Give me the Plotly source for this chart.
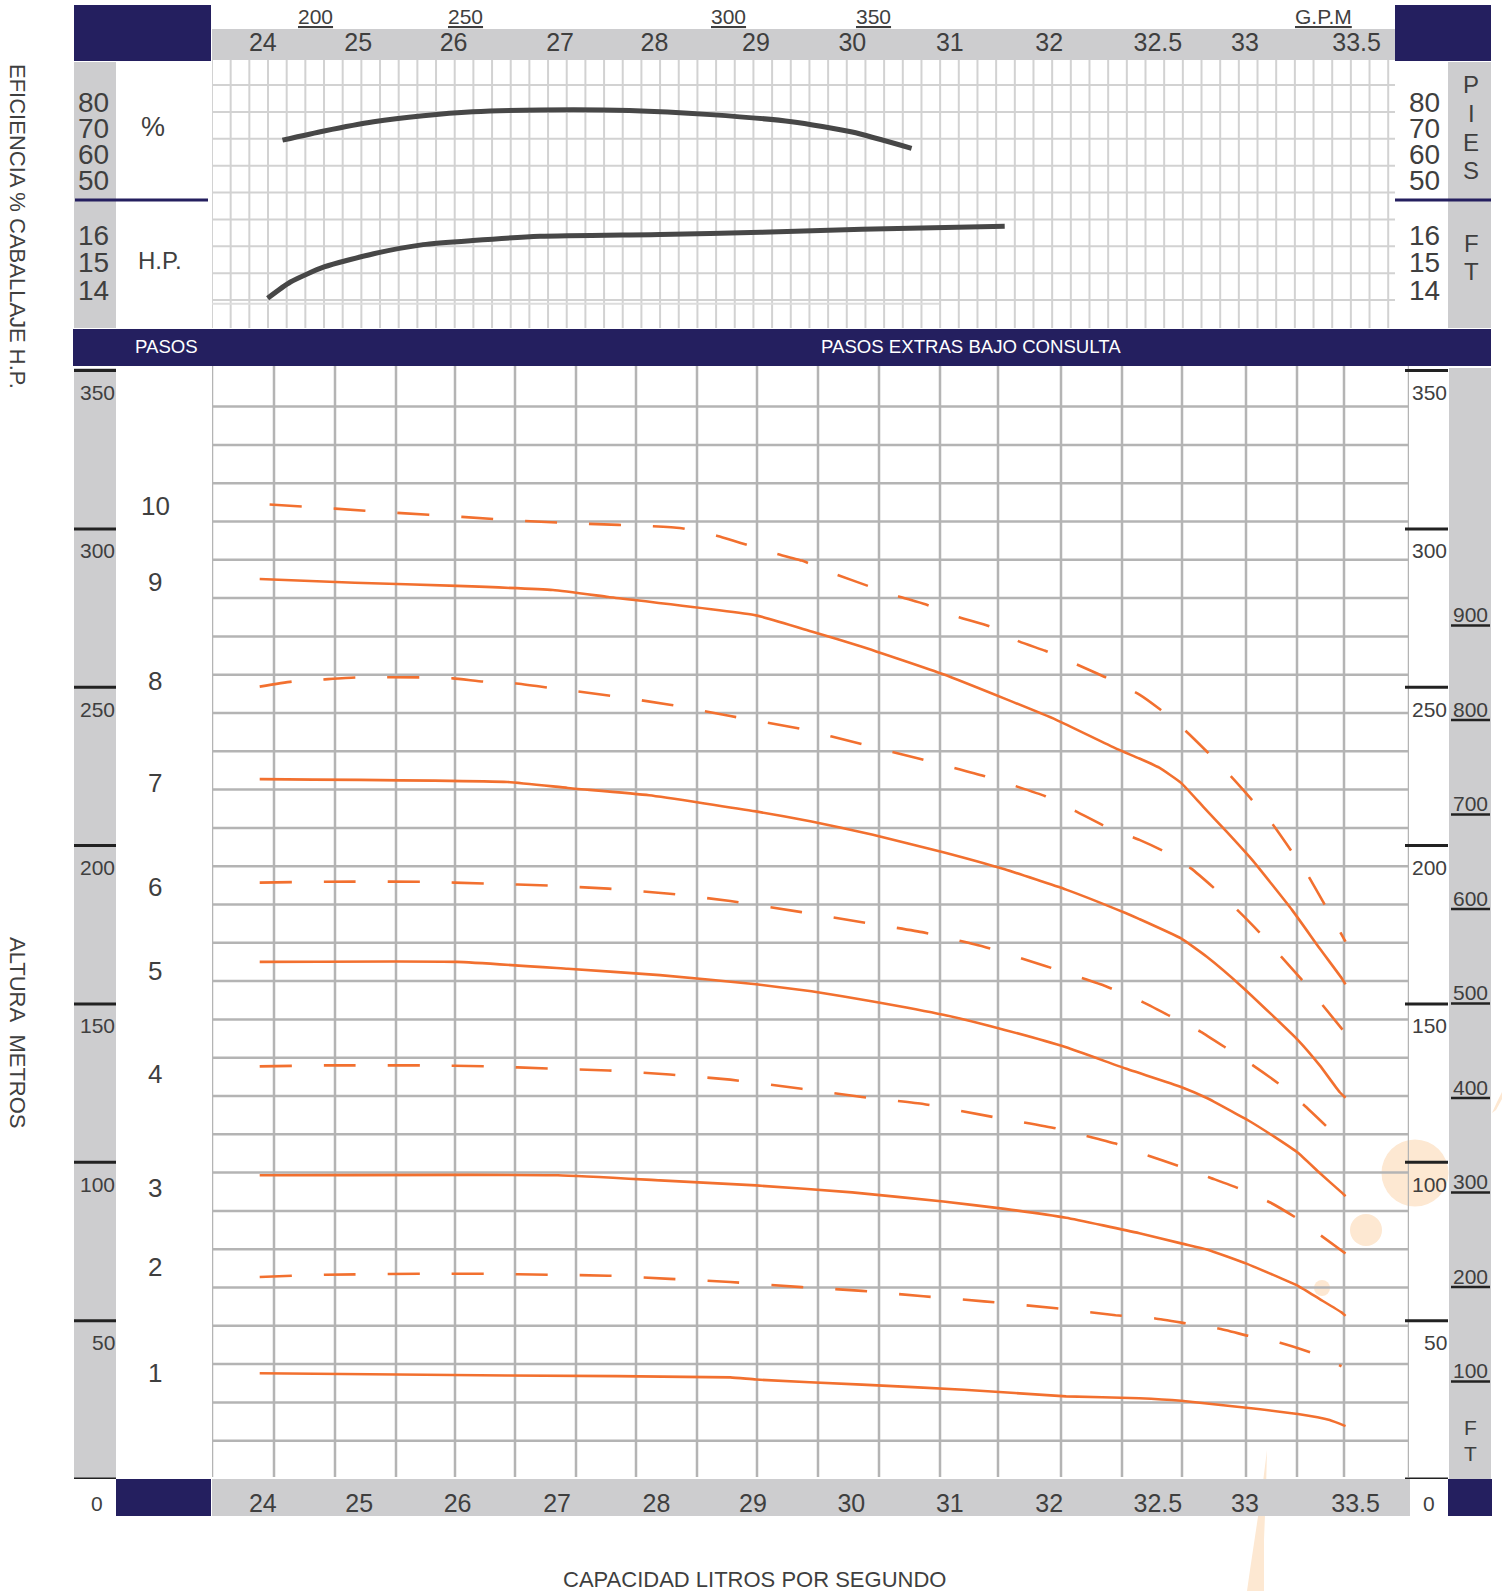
import numpy as np
import plotly.graph_objects as go

W, H = 1502, 1591

# ---------------- data ----------------
X_TICK_LABELS = ["24", "25", "26", "27", "28", "29", "30", "31", "32", "32.5", "33", "33.5"]
X_TICK_FLOW = [24, 25, 26, 27, 28, 29, 30, 31, 32, 32.5, 33, 33.5]

GPM_LABELS = ["200", "250", "300", "350"]
GPM_FLOW = [24.56, 26.08, 28.73, 30.20]
GPM_TITLE_FLOW = 33.37

EFF_TICKS = [80, 70, 60, 50]
HP_TICKS = [16, 15, 14]
M_TICKS = [350, 300, 250, 200, 150, 100, 50, 0]
FT_TICKS = [900, 800, 700, 600, 500, 400, 300, 200, 100]

STEPS = [10, 9, 8, 7, 6, 5, 4, 3, 2, 1]
STEP_LABEL_M = [307.2, 283.2, 252.0, 219.8, 187.0, 160.5, 128.0, 91.8, 66.9, 33.4]

Q10 = [24.10, 24.76, 25.37, 26.04, 26.68, 27.32, 27.93, 28.24, 28.60, 29.16, 29.47, 29.83, 30.14, 30.44,
       30.72, 31.06, 31.37, 31.67, 31.93, 32.12, 32.27, 32.44, 32.54, 32.67, 32.78, 32.90, 33.00, 33.11,
       33.20, 33.29, 33.37, 33.48]
H10 = [307.7, 306.4, 305.1, 303.8, 302.5, 301.6, 300.9, 300.3, 298.0, 292.6, 290.0, 285.5, 282.0, 278.8,
       276.2, 272.1, 269.2, 264.4, 261.5, 257.3, 253.1, 247.7, 243.2, 236.4, 229.7, 222.0, 215.0, 206.9,
       198.9, 190.6, 181.9, 169.7]

Q9 = [24.0, 24.96, 25.99, 26.96, 27.52, 29.01, 29.57, 30.08, 30.90, 31.52, 32.02, 32.32, 32.44, 32.54,
      32.65, 32.76, 32.88, 33.01, 33.21, 33.35, 33.46, 33.48]
H9 = [284.2, 283.0, 282.0, 280.7, 278.5, 272.7, 267.6, 262.8, 254.1, 246.4, 239.7, 230.7, 227.5, 224.6,
      219.8, 212.4, 204.4, 195.4, 179.7, 167.5, 158.2, 156.2]

Q8 = [24.0, 24.33, 24.66, 24.98, 25.62, 25.95, 26.26, 26.59, 26.91, 27.52, 28.14, 28.75, 29.47, 30.08,
      30.65, 31.31, 31.93, 32.12, 32.27, 32.44, 32.56, 32.70, 32.82, 32.94, 33.05, 33.16, 33.27, 33.37, 33.47]
H8 = [250.2, 251.8, 252.5, 253.1, 253.1, 252.8, 251.8, 251.2, 249.9, 247.4, 244.5, 240.9, 236.8, 232.0,
      227.5, 222.0, 215.6, 210.8, 206.0, 201.8, 198.3, 192.8, 186.4, 179.3, 172.3, 164.6, 156.9, 149.2, 141.5]

Q7 = [24.0, 26.50, 27.11, 27.93, 29.01, 29.57, 30.19, 30.90, 31.52, 32.07, 32.37, 32.44, 32.65, 32.78,
      32.96, 33.24, 33.35, 33.45, 33.48]
H7 = [221.0, 220.1, 218.2, 215.9, 210.8, 207.6, 203.4, 197.9, 192.5, 186.1, 178.7, 176.8, 170.7, 164.9,
      155.3, 138.6, 130.6, 122.2, 120.4]

Q6 = [24.0, 24.66, 25.63, 26.30, 26.91, 27.52, 28.14, 28.75, 29.47, 30.08, 30.70, 31.31, 31.93, 32.27,
      32.46, 32.60, 32.75, 32.88, 33.02, 33.15, 33.27, 33.39]
H6 = [188.3, 188.6, 188.6, 188.0, 187.4, 186.4, 184.8, 182.5, 179.0, 175.8, 172.6, 168.1, 162.0, 155.6,
      150.5, 146.0, 141.2, 136.0, 130.3, 124.5, 118.1, 111.0]

Q5 = [24.0, 25.99, 27.11, 28.04, 29.01, 29.57, 30.19, 30.90, 31.52, 32.07, 32.37, 32.65, 32.78, 32.99,
      33.12, 33.24, 33.35, 33.46, 33.48]
H5 = [163.3, 163.3, 161.1, 159.1, 156.2, 154.0, 150.8, 146.6, 141.8, 136.3, 129.6, 123.8, 120.3, 113.2,
      108.1, 103.0, 96.6, 90.5, 89.3]

Q4 = [24.0, 24.66, 25.63, 26.30, 26.91, 27.52, 28.14, 28.75, 29.47, 30.08, 30.70, 31.37, 32.02, 32.32,
      32.49, 32.64, 32.79, 32.94, 33.10, 33.23, 33.36, 33.48]
H4 = [130.3, 130.6, 130.6, 130.3, 129.6, 129.0, 127.7, 126.1, 123.2, 120.6, 118.4, 114.5, 110.7, 105.9,
      102.0, 98.8, 95.3, 91.8, 87.3, 82.5, 76.7, 71.2]

Q3 = [24.0, 27.01, 28.04, 29.01, 29.98, 30.90, 31.52, 32.07, 32.44, 32.65, 32.78, 32.98, 33.24, 33.35,
      33.46, 33.48]
H3 = [95.9, 95.9, 94.3, 92.7, 90.5, 87.6, 85.3, 82.5, 77.6, 74.4, 72.5, 68.0, 61.0, 56.8, 52.6, 51.5]

Q2 = [24.0, 24.66, 25.63, 26.30, 26.91, 27.52, 28.14, 28.75, 29.47, 30.08, 30.70, 31.31, 32.02, 32.32,
      32.52, 32.68, 32.84, 32.99, 33.15, 33.31, 33.46]
H2 = [63.8, 64.5, 64.8, 64.8, 64.5, 64.2, 63.2, 62.2, 60.6, 59.4, 57.7, 56.1, 53.9, 51.7, 50.7, 49.1,
      47.5, 45.2, 43.0, 39.8, 35.6]

Q1 = [24.0, 26.50, 28.75, 29.01, 30.08, 31.11, 32.07, 32.44, 32.65, 32.98, 33.24, 33.40, 33.48]
H1 = [33.4, 32.7, 32.1, 31.4, 29.8, 28.2, 26.1, 25.5, 24.7, 22.5, 20.5, 18.6, 16.7]

Q_EFF = [24.23, 24.65, 25.15, 25.65, 26.15, 26.83, 27.73, 28.55, 29.37, 29.98, 30.58]
EFF = [65.5, 69.0, 72.5, 74.8, 76.3, 77.0, 76.8, 75.2, 72.5, 68.6, 62.4]

Q_HP = [24.08, 24.31, 24.65, 25.15, 25.65, 26.15, 26.83, 28.04, 29.06, 30.08, 31.52]
HP = [13.70, 14.29, 14.84, 15.32, 15.65, 15.80, 15.95, 16.02, 16.10, 16.21, 16.32]

CURVES = [
    (10, Q10, H10, True), (9, Q9, H9, False), (8, Q8, H8, True), (7, Q7, H7, False),
    (6, Q6, H6, True), (5, Q5, H5, False), (4, Q4, H4, True), (3, Q3, H3, False),
    (2, Q2, H2, True), (1, Q1, H1, False),
]

# ---------------- styling ----------------
NAVY = "#241f5f"
GREY = "#cdcdcf"
ORANGE = "#f2702f"
DARK = "#474747"
TEXT = "#3f3f3f"
GRID_MAIN = "#b4b4b4"
GRID_TOP = "#d2d2d2"
TICK = "#222222"
PEACH = "#fde8d2"
FONT = "Liberation Sans, Arial, sans-serif"


def PX(x):
    return x / W


def PY(y):
    return 1 - y / H


# capacity scale: the chart spaces its tick steps evenly
def xi(q):
    return np.interp(q, X_TICK_FLOW, np.arange(len(X_TICK_FLOW)))


X0PX, XSTEP = 259.7, 99.07          # pixel of tick step 0, pixels per tick step


def idx_px(p):
    return (p - X0PX) / XSTEP


# where the printed tick labels actually sit (pixels)
TOP_LABEL_PX = [262.8, 358.2, 453.6, 560.1, 654.5, 756.0, 852.3, 949.8, 1049.2, 1157.8, 1245.0, 1356.6]
BOT_LABEL_PX = [262.8, 359.2, 457.6, 557.1, 656.5, 752.9, 851.3, 949.8, 1049.2, 1157.8, 1245.0, 1355.6]

M_PER = 3.167      # px per metre
FT_PER = 0.95      # px per foot (right-hand scale)
FT_ZERO = 1482     # pixel row of 0 ft
GRID_PX = 38.3     # spacing of horizontal grid in main panel
EFF_PER = 2.63     # px per %
HP_PER = 27.5      # px per HP

shapes = []


def rect(x0, y0, x1, y1, color):
    shapes.append(dict(type="rect", xref="paper", yref="paper", x0=PX(x0), x1=PX(x1),
                       y0=PY(y1), y1=PY(y0), fillcolor=color, line=dict(width=0), layer="below"))


# watermark decorations
for cx, cy, r in [(1415, 1173, 33.5), (1366, 1230, 16), (1322, 1288, 8)]:
    shapes.append(dict(type="circle", xref="paper", yref="paper", x0=PX(cx - r), x1=PX(cx + r),
                       y0=PY(cy + r), y1=PY(cy - r), fillcolor=PEACH, line=dict(width=0), layer="below"))


def ppath(pts):
    return "M " + " L ".join(f"{PX(a):.5f},{PY(b):.5f}" for a, b in pts) + " Z"


shapes.append(dict(type="path", xref="paper", yref="paper",
                   path=ppath([(1267, 1450), (1262, 1490), (1256, 1530), (1250, 1570), (1247, 1591),
                               (1264, 1591), (1264, 1540), (1266, 1490)]),
                   fillcolor=PEACH, line=dict(width=0), layer="below"))
shapes.append(dict(type="path", xref="paper", yref="paper",
                   path=ppath([(1492, 1113), (1497, 1102), (1502, 1092), (1502, 1099), (1496, 1110)]),
                   fillcolor=PEACH, line=dict(width=0), layer="below"))

# panels
rect(74, 5, 211, 61, NAVY)
rect(1395, 5, 1491, 61, NAVY)
rect(212, 29, 1395, 60, GREY)
rect(74, 62, 116, 328, GREY)
rect(1448, 62, 1491, 328, GREY)
rect(73, 329, 1491, 366, NAVY)
rect(74, 368, 116, 1479, GREY)
rect(1449, 368, 1491, 1479, GREY)
rect(116, 1479, 211, 1516, NAVY)
rect(212, 1479, 1410, 1516, GREY)
rect(1448, 1479, 1492, 1516, NAVY)

# top panel grid
for k in range(64):
    gx = idx_px(212) + k * (18.67 / XSTEP)
    if gx > idx_px(1395):
        break
    shapes.append(dict(type="line", xref="x2", yref="paper", x0=gx, x1=gx, y0=PY(328), y1=PY(60),
                       line=dict(color=GRID_TOP, width=2), layer="below"))
for k in range(9):
    gy = 86.46 - 10.22 * k
    shapes.append(dict(type="line", xref="paper", yref="y2", x0=PX(212), x1=PX(1395), y0=gy, y1=gy,
                       line=dict(color=GRID_TOP, width=2), layer="below"))
shapes.append(dict(type="line", xref="x2", yref="y2", x0=idx_px(212), x1=idx_px(939), y0=3.3, y1=3.3,
                   line=dict(color="#dddddd", width=2), layer="below"))

# main panel grid
MAIN_V_PX = [212, 274, 335, 396, 455, 515, 576, 636, 697, 757, 818, 879, 940, 998, 1061, 1122, 1182,
             1246, 1297, 1344, 1409]
for p in MAIN_V_PX:
    gx = idx_px(p)
    shapes.append(dict(type="line", xref="x", yref="paper", x0=gx, x1=gx, y0=PY(1477), y1=PY(366),
                       line=dict(color=GRID_MAIN, width=2.5), layer="below"))
for k in range(1, 29):
    gy = k * GRID_PX / M_PER
    shapes.append(dict(type="line", xref="paper", yref="y", x0=PX(212), x1=PX(1409), y0=gy, y1=gy,
                       line=dict(color=GRID_MAIN, width=2.5), layer="below"))

# navy separators in the top panel side columns
for a, b in [(75, 208), (1395, 1491)]:
    shapes.append(dict(type="line", xref="paper", yref="paper", x0=PX(a), x1=PX(b), y0=PY(200), y1=PY(200),
                       line=dict(color=NAVY, width=3), layer="below"))

# metre ticks on both sides
for m in M_TICKS:
    for a, b in [(74, 116), (1405, 1448)]:
        shapes.append(dict(type="line", xref="paper", yref="y", x0=PX(a), x1=PX(b), y0=m, y1=m,
                           line=dict(color=TICK, width=3), layer="below"))

# feet label underlines
for f in FT_TICKS:
    shapes.append(dict(type="line", xref="paper", yref="y3", x0=PX(1451), x1=PX(1490), y0=f, y1=f,
                       line=dict(color=TICK, width=2.5), layer="below"))

# ---------------- traces ----------------
fig = go.Figure()
for step, q, h, dashed in CURVES:
    fig.add_trace(go.Scatter(
        x=xi(q), y=h, mode="lines", xaxis="x", yaxis="y", name=f"{step} pasos",
        line=dict(color=ORANGE, width=2.6, dash="32px,32px" if dashed else "solid",
                  shape="spline", smoothing=0.4),
        hoverinfo="skip", showlegend=False))

fig.add_trace(go.Scatter(x=xi(Q_EFF), y=EFF, mode="lines", xaxis="x2", yaxis="y2", name="Eficiencia",
                         line=dict(color=DARK, width=5, shape="spline", smoothing=0.6),
                         hoverinfo="skip", showlegend=False))
fig.add_trace(go.Scatter(x=xi(Q_HP), y=HP, mode="lines", xaxis="x2", yaxis="y4", name="HP",
                         line=dict(color=DARK, width=5, shape="spline", smoothing=0.6),
                         hoverinfo="skip", showlegend=False))

# ---------------- annotations ----------------
ann = []


def A(text, x, y, size, color=TEXT, xref="paper", yref="paper", xanchor="center", yanchor="middle",
      yshift=0, textangle=0):
    ann.append(dict(text=text, x=x, y=y, xref=xref, yref=yref, xanchor=xanchor, yanchor=yanchor,
                    yshift=yshift, showarrow=False, textangle=textangle,
                    font=dict(family=FONT, size=size, color=color)))


A("EFICIENCIA % CABALLAJE H.P.", PX(18), PY(226), 22, textangle=90)
A("ALTURA\u00a0 METROS", PX(18), PY(1033), 22, textangle=90)
A("CAPACIDAD LITROS POR SEGUNDO", PX(754), PY(1579), 22)
A("PASOS", PX(166), PY(347), 18.6, color="white")
A("PASOS EXTRAS BAJO CONSULTA", PX(971), PY(347), 18.6, color="white")
A("%", PX(153), PY(127), 27)
A("H.P.", PX(160), PY(260), 24)

for v in EFF_TICKS:
    A(str(v), PX(111), v, 28, yref="y2", xanchor="right")
    A(str(v), PX(1442), v, 28, yref="y2", xanchor="right")
for v in HP_TICKS:
    A(str(v), PX(111), v, 28, yref="y4", xanchor="right")
    A(str(v), PX(1442), v, 28, yref="y4", xanchor="right")

for i, ch in enumerate("PIES"):
    A(ch, PX(1471), PY([85, 114, 142, 170][i]), 24)
for ch, yy in [("F", 243), ("T", 271)]:
    A(ch, PX(1471), PY(yy), 24)
for ch, yy in [("F", 1427), ("T", 1453)]:
    A(ch, PX(1470), PY(yy), 21)

for lab, q in zip(GPM_LABELS, GPM_FLOW):
    A(f"<u>{lab}</u>", float(xi(q)), PY(17), 21, xref="x2")
A("<u>G.P.M</u>", float(xi(GPM_TITLE_FLOW)), PY(17), 21, xref="x2")

for s, m in zip(STEPS, STEP_LABEL_M):
    A(str(s), PX(155), m, 26, yref="y")

for m in M_TICKS:
    if m == 0:
        A("0", PX(97), 0, 21, yref="y", yshift=-24)
        A("0", PX(1429), 0, 21, yref="y", yshift=-24)
    else:
        A(str(m), PX(117), m, 21, yref="y", xanchor="right", yshift=-22)
        A(str(m), PX(1449), m, 21, yref="y", xanchor="right", yshift=-22)

for f in FT_TICKS:
    A(str(f), PX(1470), f, 21, yref="y3", yshift=11)

# ---------------- layout ----------------
noax = dict(showgrid=False, zeroline=False, showline=False, ticks="")
fig.update_layout(
    width=W, height=H, autosize=False,
    margin=dict(l=0, r=0, t=0, b=0),
    paper_bgcolor="white", plot_bgcolor="white",
    font=dict(family=FONT, color=TEXT),
    xaxis=dict(domain=[PX(212), PX(1409)], range=[idx_px(212), idx_px(1409)], anchor="y",
               tickmode="array", tickvals=[idx_px(p) for p in BOT_LABEL_PX], ticktext=X_TICK_LABELS,
               tickfont=dict(family=FONT, size=25, color=TEXT), ticklabelstandoff=7, **noax),
    yaxis=dict(domain=[PY(1479), PY(366)], range=[0, (1479 - 366) / M_PER], anchor="x",
               showticklabels=False, **noax),
    yaxis3=dict(overlaying="y", anchor="x",
                range=[-(FT_ZERO - 1479) / FT_PER, (FT_ZERO - 366) / FT_PER], visible=False, **noax),
    xaxis2=dict(domain=[PX(212), PX(1395)], range=[idx_px(212), idx_px(1395)], anchor="y2", side="top",
                tickmode="array", tickvals=[idx_px(p) for p in TOP_LABEL_PX], ticktext=X_TICK_LABELS,
                tickfont=dict(family=FONT, size=25, color=TEXT), ticklabelstandoff=5, **noax),
    yaxis2=dict(domain=[PY(328), PY(62)],
                range=[80 - (328 - 102) / EFF_PER, 80 + (102 - 62) / EFF_PER], anchor="x2",
                showticklabels=False, **noax),
    yaxis4=dict(overlaying="y2", anchor="x2",
                range=[14 - (328 - 290) / HP_PER, 16 + (235 - 62) / HP_PER], visible=False, **noax),
    shapes=shapes,
    annotations=ann,
)

fig.write_html("out.html", config={"displayModeBar": False},
               post_script="document.body.style.margin='0';document.body.style.overflow='hidden';")
